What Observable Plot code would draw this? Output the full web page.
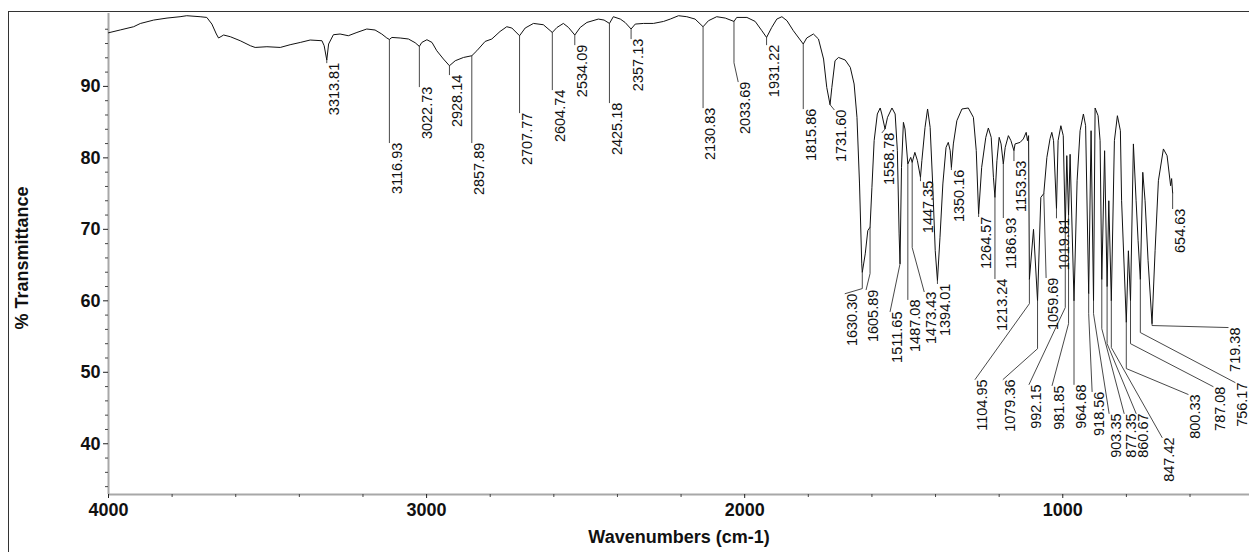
<!DOCTYPE html>
<html><head><meta charset="utf-8">
<script src="https://cdn.jsdelivr.net/npm/d3@7"></script>
<script src="https://cdn.jsdelivr.net/npm/@observablehq/plot@0.6"></script>
<style>
body{margin:0;background:#fff;}
#wrap{position:relative;width:1249px;height:552px;overflow:hidden;background:#fff;}
#frame{position:absolute;left:8px;top:11px;width:1400px;height:700px;border-left:1.5px solid #333;border-top:1.5px solid #333;}
#wrap svg{position:absolute;left:0;top:0;}
</style></head><body><div id="wrap"><div id="frame"></div></div>
<script>
// Spectrum (wavenumber cm-1, % transmittance)
const wavenumbers = [4000,3963,3921,3900,3858,3816,3775,3754,3712,3691,3675,3661,3654,3638,3617,3586,3554,3539,3502,3460,3429,3397,3366,3329,3322,3313.81,3308,3293,3272,3246,3219,3188,3162,3141,3125,3116.93,3109,3083,3057,3036,3022.73,3015,2999,2983,2968,2947,2928.14,2910,2884,2857.89,2842,2816,2795,2769,2748,2732,2707.77,2690,2664,2633,2604.74,2590,2570,2554,2534.09,2517,2496,2460,2442,2425.18,2413,2391,2376,2357.13,2344,2318,2287,2255,2234,2208,2182,2156,2130.83,2114,2088,2061,2033.69,2025,1993,1967,1946,1931.22,1915,1899,1883,1867,1847,1815.86,1805,1784,1768,1752,1742,1731.60,1726,1716,1705,1684,1668,1656,1647,1639,1632,1630.30,1621,1613,1605.89,1600,1593,1583,1574,1569,1558.78,1551,1537,1527,1520,1514.5,1511.65,1507,1501,1496,1487.08,1478,1473.43,1465,1457,1447.35,1443,1433,1425,1417,1409,1401,1394.01,1386,1377,1367,1360,1354,1350.16,1344,1333,1317,1297,1281,1272,1264.57,1255,1242,1234,1225,1218,1213.24,1207,1200,1194,1186.93,1181,1171,1163,1153.53,1150,1134,1124,1115,1111,1107.5,1104.95,1092,1079.36,1069,1059.69,1050,1040,1034.5,1029,1019.81,1014.7,1006,998.5,992.15,987.4,981.85,977,964.68,955,945.6,935.2,928.2,918.56,911,903.35,898.4,889,882.7,877.35,868.5,860.67,855.3,847.42,837.7,828.3,818.9,815.1,800.33,793.7,787.08,778,769.5,763.2,756.17,748.5,741.3,731.8,719.38,709.8,699.4,683.7,672.1,661,657.8,654.63];
const transmittance = [97.5,97.9,98.35,98.8,99.28,99.56,99.75,99.89,99.75,99.65,98.72,97.33,96.77,97.19,96.95,96.39,95.69,95.45,95.55,95.45,95.83,96.15,96.49,96.39,95.69,93.69,95.93,97.23,97.33,97.09,97.55,98.03,97.89,97.33,96.77,96.57,96.85,96.77,96.63,96.11,95.6,96.15,96.53,96.15,94.99,93.83,92.89,93.59,94.05,94.29,94.99,96.29,96.63,97.69,98.35,98.17,97.09,98.17,98.81,98.63,97.55,98.25,98.81,98.25,97.19,98.25,98.95,99.42,99.28,98.81,99.75,99.42,98.95,98.03,98.72,98.81,98.81,99.09,99.42,99.89,99.75,99.42,98.35,99.19,99.75,99.56,99.09,99.65,99.65,99.09,97.79,96.85,98.25,99.42,99.75,99.19,97.79,95.93,96.77,97.33,96.63,93.83,89.86,87.44,89.86,93.59,94.05,93.69,92.66,90.34,85.67,76.35,65.17,63.99,66.57,69.82,70.3,75.88,82.41,86.14,86.98,86.14,84.04,85.67,86.98,86.14,81.01,69.36,65.17,78.67,84.97,84.04,79.15,80.07,79.37,80.77,79.61,77.28,79.61,84.27,86.84,84.27,76.35,67.03,62.83,68.89,76.35,81.47,82.17,81.01,78.67,81.95,85.2,86.84,86.98,85.67,81.01,72.16,78.67,82.87,84.18,82.87,77.28,74.48,79.61,82.87,81.95,79.15,81.47,83.11,82.41,81.01,81.95,82.17,82.65,83.57,82.41,83.11,63,70,60,74.48,75,80.07,82.69,83.57,82.41,72.9,82.41,84.5,83.11,70,80.31,72,80.5,60,76.8,83.8,86.14,84.5,61,83.8,60,86.98,85.9,82.4,63,81.0,62,74.0,60,82.4,85.9,83.8,74.0,57,67.0,60,81.95,74.0,68.4,63,77.98,74.0,65.6,56.8,67.0,76.8,81.25,80.3,76.1,77.1,75.1];

// Peak annotations
const peakLabels = ["3313.81","3116.93","3022.73","2928.14","2857.89","2707.77","2604.74","2534.09","2425.18","2357.13","2130.83","2033.69","1931.22","1815.86","1731.60","1630.30","1605.89","1558.78","1511.65","1487.08","1473.43","1447.35","1394.01","1350.16","1264.57","1213.24","1186.93","1153.53","1104.95","1079.36","1059.69","1019.81","992.15","981.85","964.68","918.56","903.35","877.35","860.67","847.42","800.33","787.08","756.17","719.38","654.63"];
const peakT = [93.69,96.57,95.6,92.89,94.29,97.09,97.55,97.19,98.81,98.03,98.35,99.09,96.85,95.93,87.44,63.99,70.3,84.04,65.17,79.15,79.37,77.28,62.83,78.67,72.16,74.48,79.15,81.01,63,60,75,72.9,70,72,60,61,60,63,62,60,57,60,63,56.8,75.1];
const elbowT = [null,null,null,null,null,null,null,null,null,null,null,93.31,null,null,null,61.71,63.81,null,null,null,67.45,null,null,null,null,null,null,null,59.6,53.3,null,null,59.06,56.8,null,58.2,58.2,56.1,54.0,53.46,50.52,54.0,55.56,56.54,null];
const labelWn = [3313.81,3116.93,3022.73,2928.14,2857.89,2707.77,2604.74,2534.09,2425.18,2357.13,2130.83,2020.6,1931.22,1815.86,1718.8,1684.2,1618.2,1567.9,1542.8,1487.08,1435.9,1447.35,1394.01,1350.16,1264.57,1213.24,1186.93,1153.53,1275.6,1187.6,1052.4,1019.81,1106,1033.6,964.68,907.8,854.4,807.2,769.5,687.8,606,527.5,458.3,480.3,654.63];
const labelT = [93.31,82.13,89.96,91.64,82.13,86.32,89.54,95.83,87.72,96.67,87.02,90.66,95.83,86.88,86.74,61.0,61.56,83.53,58.5,60.18,61.29,76.8,62.41,78.35,71.78,63.11,71.64,79.61,49.0,49.0,63.25,71.6,48.3,48.15,48.3,47.3,44.24,44.24,44.24,40.88,46.9,48.0,48.57,56.26,72.9];

// Axis ticks
const majorX = [4000,3000,2000,1000];
const minorX = d3.range(3800,500,-200).filter(v => v % 1000 !== 0);
const majorY = [40,50,60,70,80,90];
const minorY = d3.range(34,101,2).filter(v => v % 10 !== 0);

const spectrum = wavenumbers.map((w,i) => ({w, t: transmittance[i]}));
const leaders = [];
peakLabels.forEach((lab,i) => {
  leaders.push({id: lab, w: +lab, t: peakT[i]});
  if (elbowT[i] != null) leaders.push({id: lab, w: +lab, t: elbowT[i]});
  leaders.push({id: lab, w: labelWn[i], t: labelT[i]});
});
const labels = peakLabels.map((lab,i) => ({lab, w: labelWn[i], t: labelT[i]}));

const chart = Plot.plot({
  width: 1249, height: 552,
  marginLeft: 108, marginRight: 0, marginTop: 13, marginBottom: 58,
  style: {fontFamily: "'Liberation Sans', Arial, sans-serif", background: "transparent", overflow: "visible", color: "#111"},
  x: {domain: [4000, 413]},
  y: {domain: [32.9, 100.2]},
  marks: [
    Plot.ruleX([4000], {stroke: "#a8a8a8", strokeWidth: 2}),
    Plot.ruleY([32.9], {stroke: "#a8a8a8", strokeWidth: 2}),
    Plot.axisY({ticks: minorY, tickSize: 3, tickFormat: () => "", label: null, stroke: "#444"}),
    Plot.axisY({ticks: majorY, tickSize: 5, tickPadding: 3, fontSize: 18, fontWeight: "bold", label: null, stroke: "#222"}),
    Plot.axisX({ticks: minorX, tickSize: 3, tickFormat: () => "", label: null, stroke: "#444"}),
    Plot.axisX({ticks: majorX, tickSize: 4, tickPadding: 5, fontSize: 18, fontWeight: "bold", label: null, tickFormat: d => String(d), stroke: "#222"}),
    Plot.line(spectrum, {x: "w", y: "t", stroke: "#111", strokeWidth: 1}),
    Plot.line(leaders, {x: "w", y: "t", z: "id", stroke: "#333", strokeWidth: 0.9}),
    Plot.text(labels, {x: "w", y: "t", text: "lab", rotate: -90, textAnchor: "end", lineAnchor: "top", fontSize: 14.5, fill: "#111", dx: 2}),
    Plot.text(["% Transmittance"], {text: d => d, frameAnchor: "left", textAnchor: "middle", lineAnchor: "middle", rotate: -90, dx: -86, dy: 4, fontSize: 18, fontWeight: "bold"}),
    Plot.text(["Wavenumbers (cm-1)"], {text: d => d, frameAnchor: "bottom", textAnchor: "middle", lineAnchor: "middle", dy: 43, fontSize: 18, fontWeight: "bold"})
  ]
});
document.getElementById("wrap").appendChild(chart);
</script>
</body></html>
